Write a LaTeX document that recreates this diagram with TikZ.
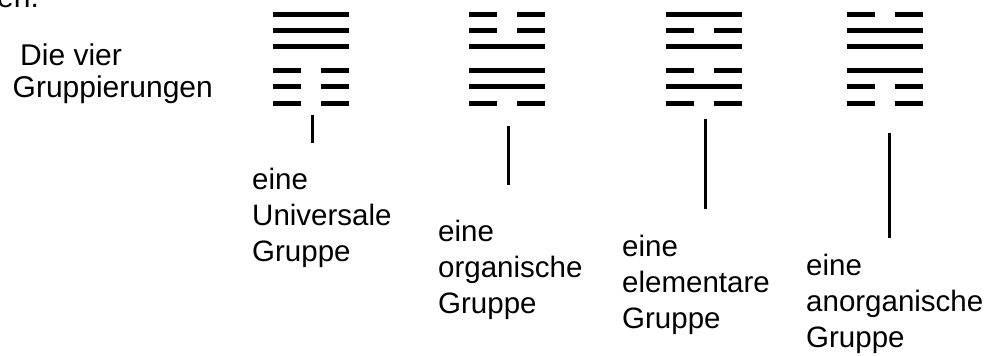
\documentclass[tikz,border=0pt]{standalone}
\usepackage{fontspec}
\setmainfont{Liberation Sans}
\newcommand\hexrow[3]{%
  \ifnum#3=1
    \draw[yao] (#1,#2) -- ++(76,0);
  \else
    \draw[yao] (#1,#2) -- ++(28,0);
    \draw[yao] (#1+48,#2) -- ++(28,0);
  \fi}
\newcommand\hexagram[2]{%
  \foreach \yy/\bb in {#2}{\hexrow{#1}{\yy}{\bb}}}
\tikzset{
  yao/.style={line width=5pt, line cap=butt},
  conn/.style={line width=3pt},
  lbl/.style={anchor=base west, inner sep=0pt, align=left,
    font=\fontsize{29.5}{36}\selectfont},
  ttl/.style={anchor=base west, inner sep=0pt,
    font=\fontsize{30}{36}\selectfont}
}
\begin{document}
\begin{tikzpicture}[x=1pt,y=-1pt]
\useasboundingbox (0,0) rectangle (988,356);
\fill[white] (0,0) rectangle (988,356);
% partial text at the top (cut off by the page edge, as in the original)
\node[ttl] (top) at (-3,8) {en.};
% title
\node[ttl] (t1) at (20,65) {Die vier};
\node[ttl] (t2) at (12.5,97) {Gruppierungen};
% hexagrams
\hexagram{273}{14.5/1,30/1,46/1,70.5/0,86.5/0,103/0}
\hexagram{469}{14.5/0,30/0,46/1,70.5/1,86.5/1,103/0}
\hexagram{666}{14.5/1,30/0,46/1,70.5/0,86.5/1,103/0}
\hexagram{847}{14.5/0,30/1,46/1,70.5/1,86.5/0,103/0}
% labels (base anchor = baseline of last line)
\node[lbl] (l1) at (252,261) {eine\\Universale\\Gruppe};
\node[lbl] (l2) at (438,313) {eine\\organische\\Gruppe};
\node[lbl] (l3) at (622,328) {eine\\elementare\\Gruppe};
\node[lbl] (l4) at (806,347) {eine\\anorganische\\Gruppe};
% connectors
\coordinate (c1t) at (312,115); \coordinate (c1b) at (312,143);
\coordinate (c2t) at (508,126); \coordinate (c2b) at (508,185);
\coordinate (c3t) at (705,119); \coordinate (c3b) at (705,209);
\coordinate (c4t) at (889,133); \coordinate (c4b) at (889,238);
\draw[conn] (c1t) -- (c1b);
\draw[conn] (c2t) -- (c2b);
\draw[conn] (c3t) -- (c3b);
\draw[conn] (c4t) -- (c4b);
\end{tikzpicture}
\end{document}
